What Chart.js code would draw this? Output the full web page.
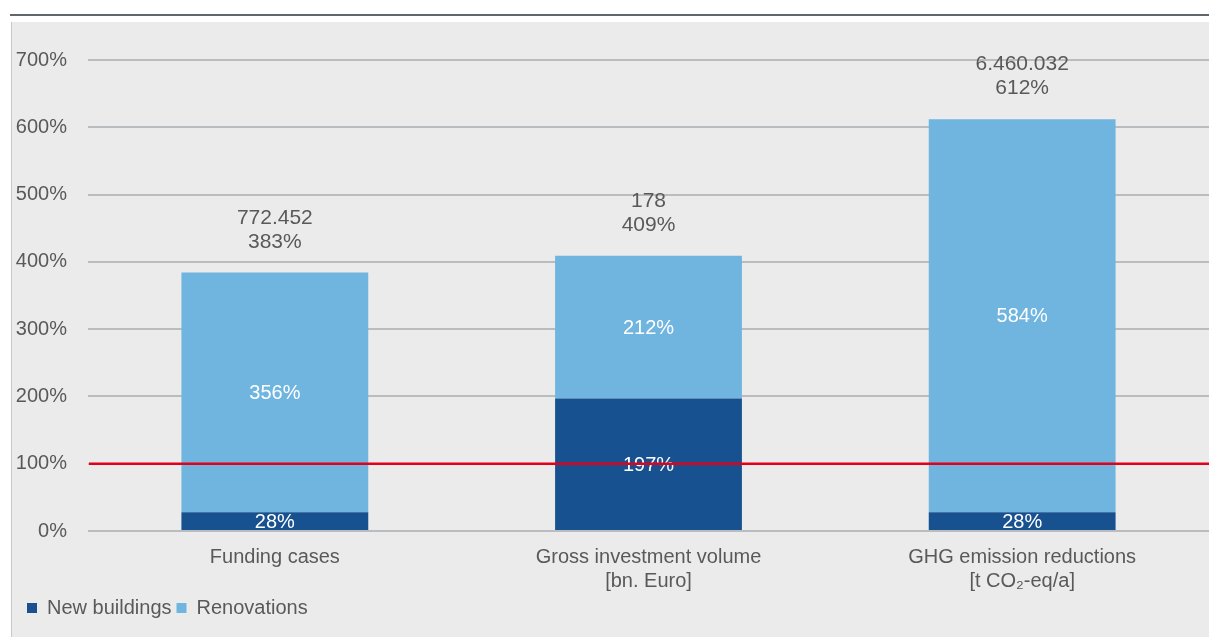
<!DOCTYPE html>
<html>
<head>
<meta charset="utf-8">
<script src="https://cdn.jsdelivr.net/npm/chart.js@4"></script>
<style>
  html, body { margin: 0; padding: 0; background: #ffffff; }
  #rule { position: absolute; left: 10px; top: 14px; width: 1199px; height: 2px; background: #5f676c; }
  #panel { position: absolute; left: 11px; top: 22px; width: 1197px; height: 615px;
           background: #ebebeb; border-left: 1px solid #c6c8ca; }
  #wrap { position: relative; width: 1197px; height: 615px; }
</style>
</head>
<body>
<div id="rule"></div>
<div id="panel"><div id="wrap"><canvas id="chart"></canvas></div></div>
<script>
// Categories (multi-line axis labels)
const categories = [
  ['Funding cases'],
  ['Gross investment volume', '[bn. Euro]'],
  ['GHG emission reductions', '[t CO\u2082-eq/a]']
];
// Shares in percent, per series
const newBuildings = [28, 197, 28];
const renovations = [356, 212, 584];
// Totals shown above each stack
const totalShares = [383, 409, 612];
const totalAbsolute = ['772.452', '178', '6.460.032'];
// Y axis ticks and reference level
const yTicks = [0, 100, 200, 300, 400, 500, 600, 700];
const referenceLevel = 100;

const textGrey = '#595959';
const fontFamily = "'Liberation Sans', Arial, sans-serif";

// Value labels inside segments and totals above stacks, plus the 100 % line
const labelPlugin = {
  id: 'stackLabels',
  afterLayout(chart) {
    // indent the legend a little from the panel edge
    chart.legend.left = 10;
  },
  afterDatasetsDraw(chart) {
    const ctx = chart.ctx;
    const yScale = chart.scales.y;
    ctx.save();
    ctx.textAlign = 'center';
    ctx.textBaseline = 'middle';
    ctx.fillStyle = '#ffffff';
    ctx.font = '20px ' + fontFamily;
    chart.data.datasets.forEach((ds, di) => {
      const meta = chart.getDatasetMeta(di);
      meta.data.forEach((bar, i) => {
        ctx.fillText(ds.data[i] + '%', bar.x, (bar.y + bar.base) / 2 + 1);
      });
    });
    ctx.fillStyle = textGrey;
    ctx.font = '21px ' + fontFamily;
    const top = chart.getDatasetMeta(chart.data.datasets.length - 1);
    top.data.forEach((bar, i) => {
      const y = yScale.getPixelForValue(totalShares[i]);
      ctx.fillText(totalAbsolute[i], bar.x, y - 55);
      ctx.fillText(totalShares[i] + '%', bar.x, y - 31);
    });
    ctx.restore();
  },
  afterDraw(chart) {
    const ctx = chart.ctx;
    const area = chart.chartArea;
    const y = chart.scales.y.getPixelForValue(referenceLevel);
    ctx.save();
    ctx.strokeStyle = '#e2001a';
    ctx.lineWidth = 2.5;
    ctx.beginPath();
    ctx.moveTo(area.left + 1, y);
    ctx.lineTo(area.right, y);
    ctx.stroke();
    ctx.restore();
  }
};

Chart.defaults.font.family = fontFamily;
Chart.defaults.color = textGrey;

new Chart(document.getElementById('chart'), {
  type: 'bar',
  data: {
    labels: categories,
    datasets: [
      { label: 'New buildings', data: newBuildings, backgroundColor: '#175190', borderWidth: 0 },
      { label: 'Renovations', data: renovations, backgroundColor: '#6fb5e0', borderWidth: 0 }
    ]
  },
  options: {
    responsive: true,
    maintainAspectRatio: false,
    animation: false,
    layout: { padding: { top: 38, left: 0, right: 0, bottom: 9 } },
    datasets: { bar: { categoryPercentage: 1.0, barPercentage: 0.5 } },
    plugins: {
      tooltip: { enabled: false },
      legend: {
        position: 'bottom',
        align: 'start',
        labels: {
          boxWidth: 10,
          boxHeight: 10,
          padding: 5,
          color: textGrey,
          font: { size: 20 }
        }
      }
    },
    scales: {
      x: {
        stacked: true,
        grid: { display: false, drawTicks: false },
        border: { display: false },
        ticks: { color: textGrey, font: { size: 20, lineHeight: 1.2 }, padding: 14, maxRotation: 0 },
        afterFit(scale) { scale.height = 62; }
      },
      y: {
        stacked: true,
        min: 0,
        max: 700,
        afterBuildTicks(scale) { scale.ticks = yTicks.map(v => ({ value: v })); },
        afterFit(scale) { scale.width = 76; },
        grid: { color: '#b9bdc0', lineWidth: 2, drawTicks: false },
        border: { display: false },
        ticks: { color: textGrey, font: { size: 20 }, padding: 21, callback: v => v + '%' }
      }
    }
  },
  plugins: [labelPlugin]
});
</script>
</body>
</html>
